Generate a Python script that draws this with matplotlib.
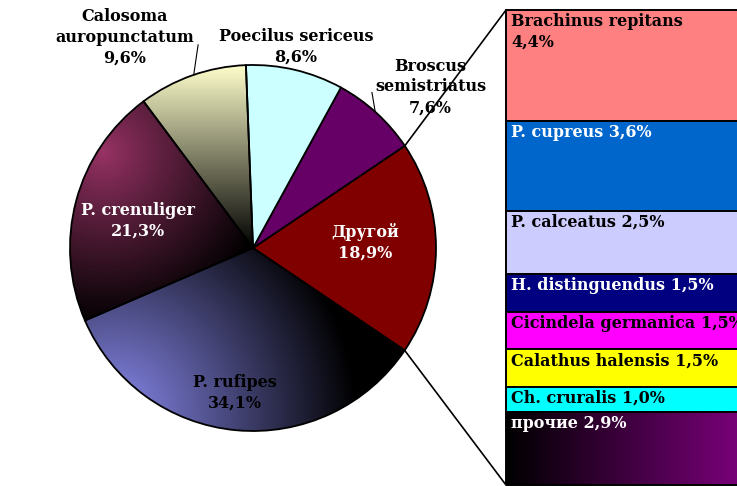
"""Bar-of-pie: ground beetle species shares, 'Другой' split into a stacked bar."""

import matplotlib
matplotlib.use("Agg")
import matplotlib.pyplot as plt
import numpy as np
from matplotlib.colors import to_rgb
from matplotlib.patches import ConnectionPatch

# pie slices, counter-clockwise starting with the split-off "other" slice
PIE_LABELS = ["Другой", "Broscus\nsemistriatus", "Poecilus sericeus",
              "Calosoma\nauropunctatum", "P. crenuliger", "P. rufipes"]
PIE_VALUES = [18.9, 7.6, 8.6, 9.6, 21.3, 34.1]
PIE_COLORS = ["#800000", "#660066", "#CCFFFF", "#FFFFCC", "#993366", "#8888EE"]

# stacked bar, top to bottom
BAR_LABELS = ["Brachinus repitans\n", "P. cupreus ", "P. calceatus ",
              "H. distinguendus ", "Cicindela germanica ", "Calathus halensis ",
              "Ch. cruralis ", "прочие "]
BAR_VALUES = [4.4, 3.6, 2.5, 1.5, 1.5, 1.5, 1.0, 2.9]
BAR_COLORS = ["#FF8080", "#0066CC", "#CCCCFF", "#000080", "#FF00FF",
              "#FFFF00", "#00FFFF", "#800080"]
BAR_TEXT = ["black", "white", "black", "white", "black", "black", "black", "white"]

FONT = dict(family="DejaVu Serif", fontweight="bold", fontsize=11.5, linespacing=1.28)


def pct(v):
    return f"{v:.1f}%".replace(".", ",")


def gradient_image(ax, patch, extent, rgb_func, n=300):
    x0, x1, y0, y1 = extent
    xx, yy = np.meshgrid(np.linspace(x0, x1, n), np.linspace(y0, y1, n))
    img = rgb_func(xx, yy)
    im = ax.imshow(img, extent=extent, origin="lower", interpolation="bilinear",
                   zorder=patch.get_zorder() - 0.1, aspect="auto")
    im.set_clip_path(patch)


def radial(c0, c1, origin, radius, gamma=1.0):
    c0, c1 = np.array(to_rgb(c0)), np.array(to_rgb(c1))

    def f(xx, yy):
        t = np.clip(np.hypot(xx - origin[0], yy - origin[1]) / radius, 0, 1) ** gamma
        return c0 * (1 - t)[..., None] + c1 * t[..., None]
    return f


def linear(c0, c1, p0, p1):
    c0, c1 = np.array(to_rgb(c0)), np.array(to_rgb(c1))
    d = np.array(p1) - np.array(p0)

    def f(xx, yy):
        t = ((xx - p0[0]) * d[0] + (yy - p0[1]) * d[1]) / (d @ d)
        t = np.clip(t, 0, 1)
        return c0 * (1 - t)[..., None] + c1 * t[..., None]
    return f


fig = plt.figure(figsize=(7.37, 4.86), dpi=100)

# ---- pie -----------------------------------------------------------------
ax = fig.add_axes([70 / 737, 55 / 486, 366 / 737, 366 / 486])
start = -PIE_VALUES[0] / 100 * 180
wedges, _ = ax.pie(PIE_VALUES, colors=PIE_COLORS, startangle=start,
                   counterclock=True,
                   wedgeprops=dict(edgecolor="black", linewidth=1.3))
ax.set_xlim(-1, 1)
ax.set_ylim(-1, 1)
ax.set_aspect("equal")
ax.axis("off")

ext = (-1.02, 1.02, -1.02, 1.02)
for w in wedges:
    w.set_zorder(2)
# Calosoma: light yellow at top fading to black near centre
wedges[3].set_facecolor("none")
gradient_image(ax, wedges[3], ext, linear("#FFFFCC", "#000000", (0, 1.0), (0, 0.0)))
# P. crenuliger: magenta glow from the upper left
wedges[4].set_facecolor("none")
gradient_image(ax, wedges[4], ext, radial("#993366", "#000000", (-0.82, 0.52), 0.95, 0.9))
# P. rufipes: periwinkle glow from the lower left
wedges[5].set_facecolor("none")
gradient_image(ax, wedges[5], ext, radial("#8A8AF0", "#000000", (-0.78, -0.92), 1.35, 1.0))

# slice labels
pie_text = [((0.61, 0.03), "white"), ((0.97, 0.88), "black"), ((0.235, 1.10), "black"),
            ((-0.70, 1.15), "black"), ((-0.63, 0.15), "white"), ((-0.10, -0.79), "black")]
for (xy, tc), lab, v in zip(pie_text, PIE_LABELS, PIE_VALUES):
    ax.text(*xy, f"{lab}\n{pct(v)}", ha="center", va="center", color=tc,
            clip_on=False, zorder=5, **FONT)

# leader lines for the outside labels: (slice, angle on rim, label-side end)
for i, ang, end in ((3, 108.9, (-0.30, 1.11)), (1, 48.1, (0.65, 0.85))):
    a = np.deg2rad(ang)
    ax.plot([np.cos(a), end[0]], [np.sin(a), end[1]],
            color="black", lw=0.8, clip_on=False, zorder=4)

# ---- stacked bar ---------------------------------------------------------
bx = fig.add_axes([506 / 737, 1 / 486, 260 / 737, 475 / 486])
total = sum(BAR_VALUES)
tops = total - np.concatenate([[0], np.cumsum(BAR_VALUES)[:-1]])
bars = bx.bar(0, BAR_VALUES, bottom=tops - np.array(BAR_VALUES), width=1, align="edge",
              color=BAR_COLORS, edgecolor="black", linewidth=1.4, clip_on=False, zorder=2)
bx.set_xlim(0, 1)
bx.set_ylim(0, total)
bx.axis("off")

# прочие: horizontal black -> purple gradient
last = bars[-1]
last.set_facecolor("none")
gradient_image(bx, last, (0, 1, 0, total), linear("#000000", "#800080", (0, 0), (0.95, 0)))
last.set_zorder(3)

for top, lab, v, tc in zip(tops, BAR_LABELS, BAR_VALUES, BAR_TEXT):
    bx.text(0.02, top - 0.12, f"{lab}{pct(v)}", ha="left", va="top", color=tc,
            zorder=5, **FONT)

# connectors from the split slice to the bar
w0 = wedges[0]
for ang, yb in ((w0.theta2, total), (w0.theta1, 0)):
    a = np.deg2rad(ang)
    con = ConnectionPatch(xyA=(np.cos(a), np.sin(a)), coordsA=ax.transData,
                          xyB=(0, yb), coordsB=bx.transData,
                          color="black", lw=1.2, zorder=1)
    fig.add_artist(con)

fig.savefig("out.png", dpi=100)
